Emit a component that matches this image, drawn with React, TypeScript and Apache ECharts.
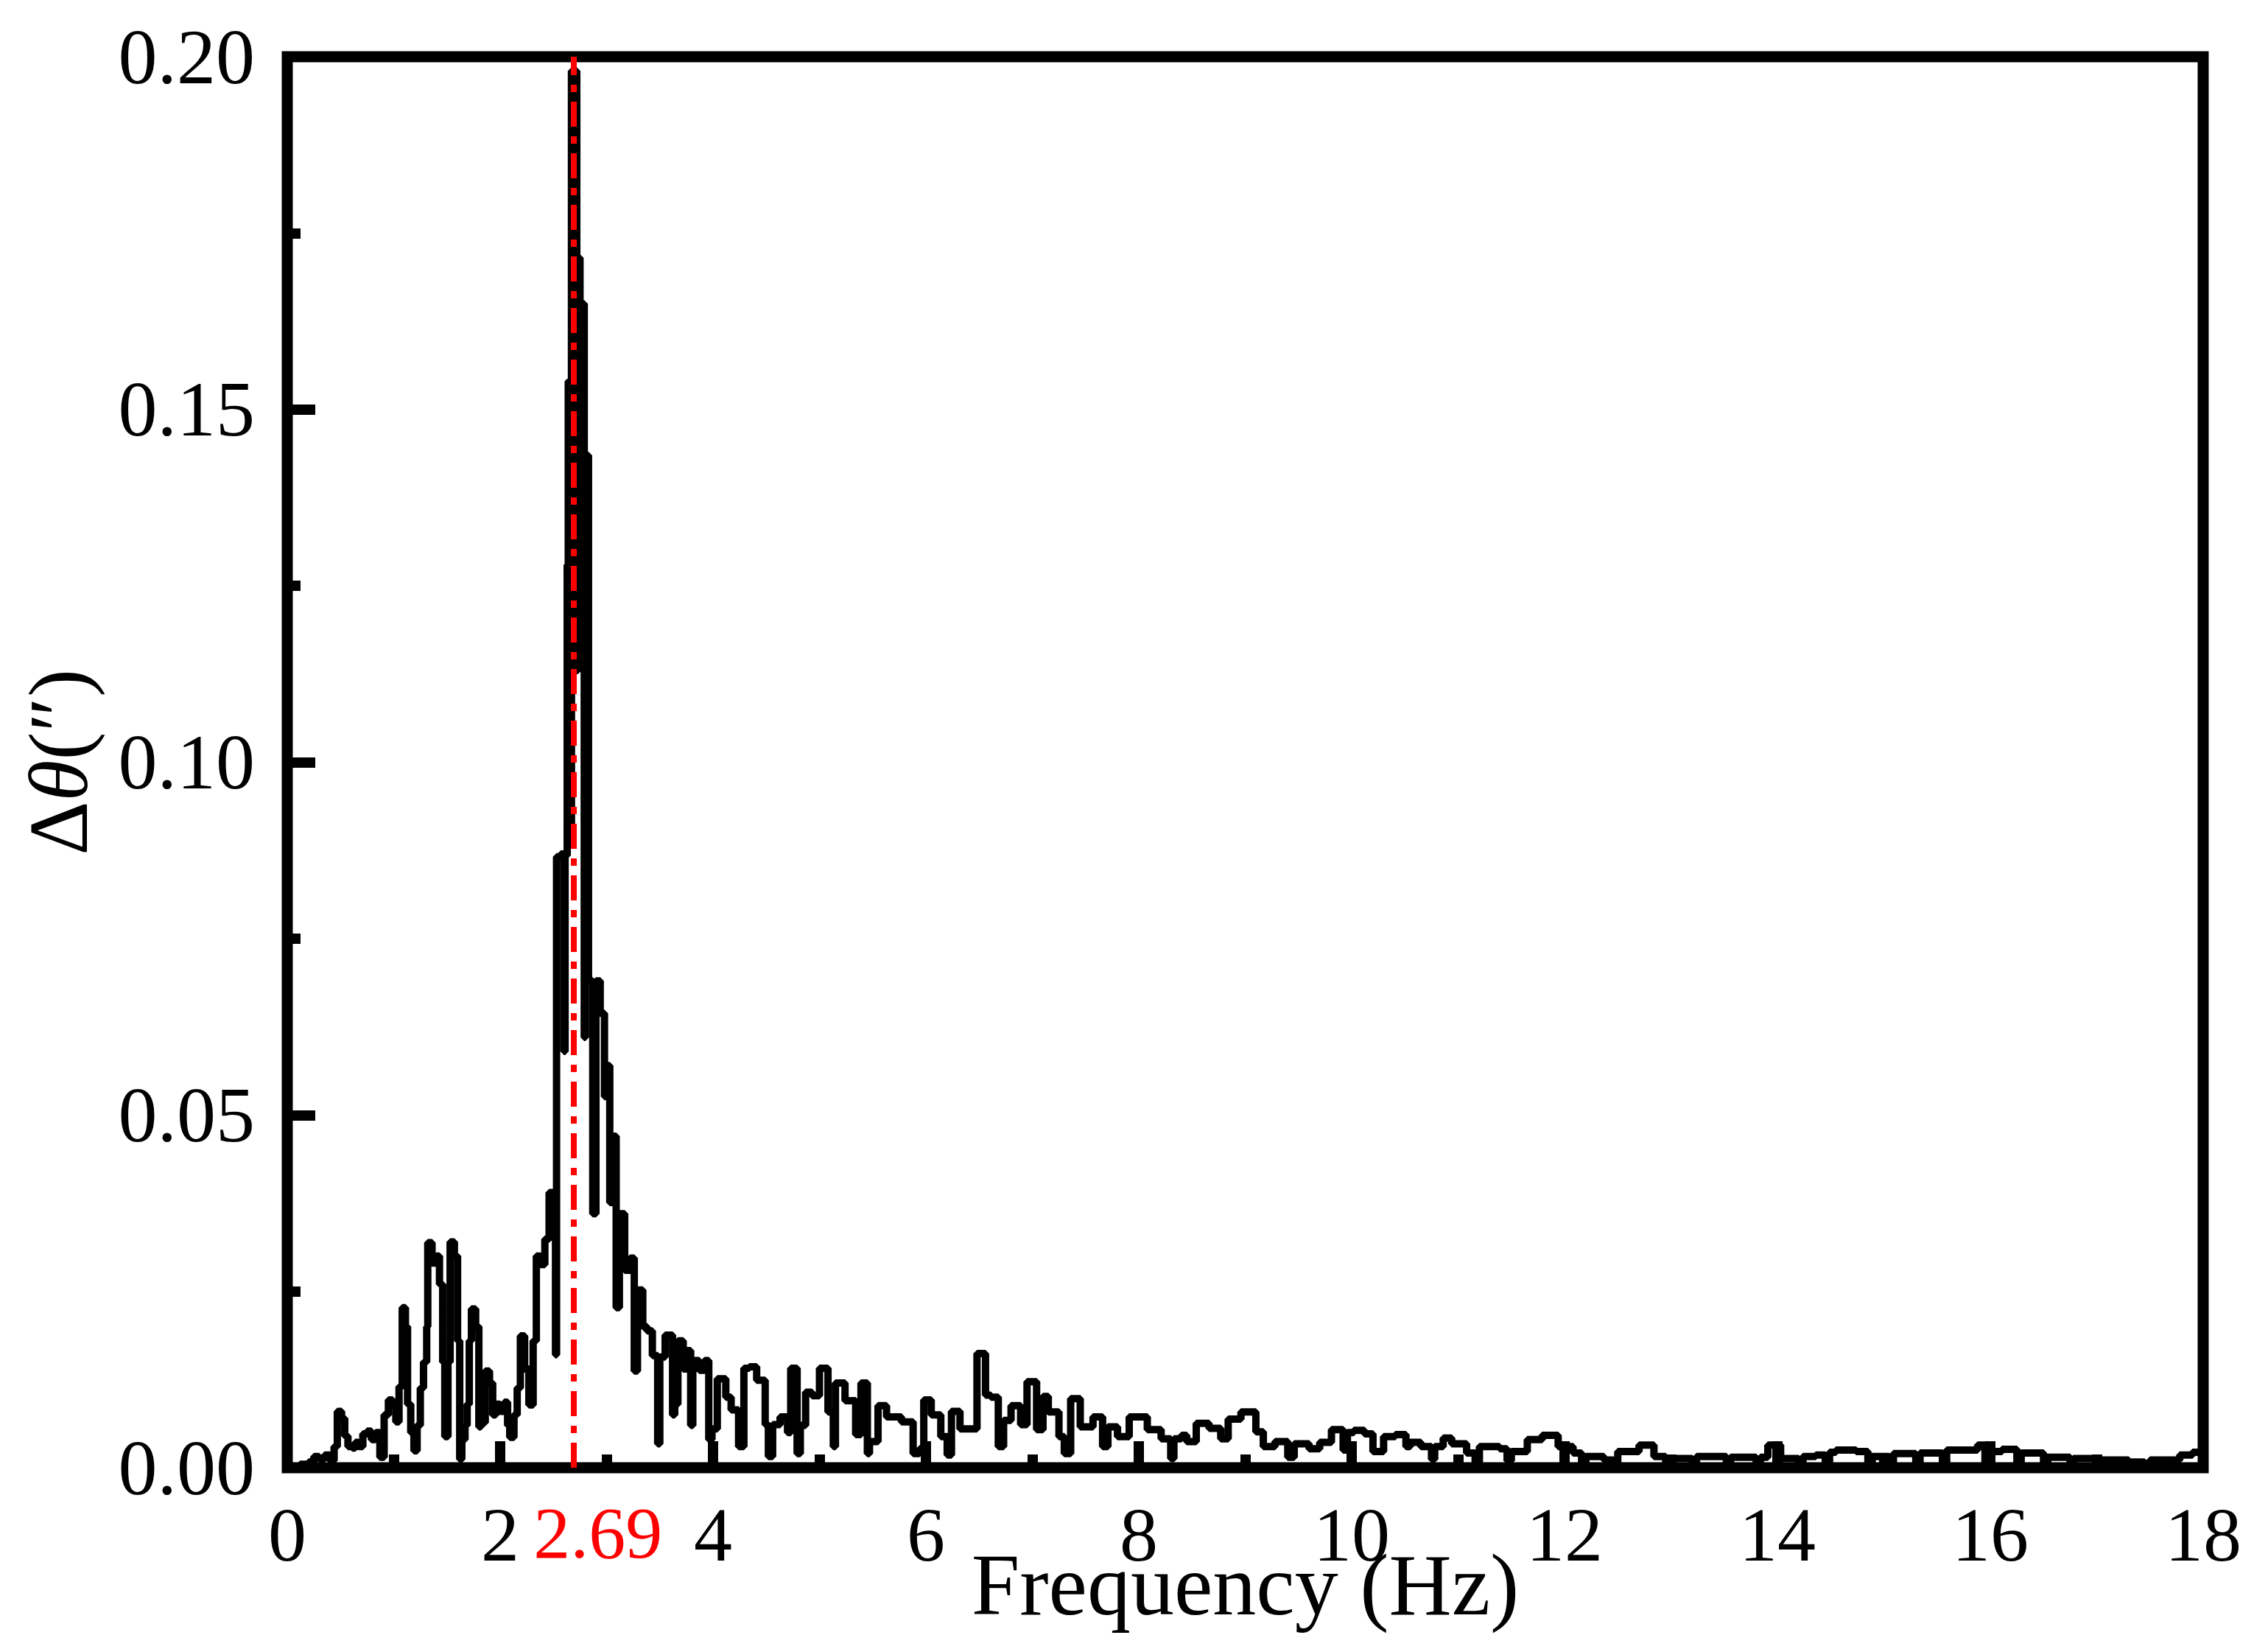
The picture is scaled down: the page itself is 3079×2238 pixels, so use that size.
import React, { useEffect, useRef } from "react";
import * as echarts from "echarts";

// Frequency (Hz) at which each level of the step spectrum starts, and its amplitude Δθ (″)
const freqLow = [
  0.0, 0.12, 0.2, 0.25, 0.3, 0.35, 0.4, 0.44, 0.47, 0.51, 0.54, 0.57, 0.61, 0.64, 0.67, 0.71, 0.75, 0.79, 0.83, 0.87,
  0.91, 0.95, 0.99, 1.02, 1.05, 1.08, 1.11, 1.13, 1.16, 1.19, 1.22, 1.25, 1.28, 1.31, 1.32, 1.36, 1.4, 1.43, 1.46, 1.48,
  1.51, 1.53, 1.57, 1.6, 1.62, 1.64, 1.67, 1.69, 1.71, 1.73, 1.77, 1.8, 1.82, 1.86, 1.9, 1.93, 1.96, 2.0, 2.04, 2.07,
  2.09, 2.13, 2.16, 2.19, 2.23, 2.27, 2.31,
];
const ampLow = [
  0.0, 0.0005, 0.0008, 0.0016, 0.0012, 0.0018, 0.001, 0.003, 0.008, 0.007, 0.0045, 0.003, 0.0028, 0.0036, 0.003, 0.0048, 0.0052, 0.004, 0.005, 0.0015,
  0.0075, 0.0096, 0.0088, 0.0065, 0.0115, 0.0227, 0.02, 0.009, 0.005, 0.0024, 0.006, 0.0113, 0.015, 0.02, 0.0319, 0.029, 0.03, 0.026, 0.015, 0.0044,
  0.015, 0.032, 0.03, 0.018, 0.0012, 0.004, 0.006, 0.009, 0.018, 0.0225, 0.02, 0.0058, 0.0064, 0.0137, 0.012, 0.0075, 0.009, 0.008, 0.0093, 0.006,
  0.0043, 0.0075, 0.0113, 0.0187, 0.014, 0.0089, 0.018,
];

const freqPeak = [
  2.34, 2.38, 2.42, 2.46, 2.5, 2.52, 2.53, 2.57, 2.6, 2.61, 2.63, 2.64, 2.66, 2.67, 2.72, 2.73, 2.75, 2.79, 2.8, 2.83,
  2.87, 2.9, 2.94, 2.98, 3.01, 3.03, 3.07, 3.09, 3.12, 3.17, 3.22, 3.26, 3.29, 3.34,
];
const ampPeak = [
  0.03, 0.0288, 0.0324, 0.039, 0.033, 0.016, 0.0866, 0.087, 0.059, 0.0868, 0.128, 0.154, 0.09, 0.198, 0.113, 0.1715, 0.165, 0.061, 0.1435, 0.069,
  0.036, 0.069, 0.0644, 0.0526, 0.057, 0.0376, 0.047, 0.0227, 0.036, 0.028, 0.0297, 0.0137, 0.0252, 0.02,
];

const freqMid = [
  3.38, 3.43, 3.48, 3.5, 3.55, 3.62, 3.64, 3.67, 3.72, 3.75, 3.79, 3.81, 3.87, 3.92, 3.96, 3.99, 4.04, 4.12, 4.17,
  4.24, 4.29, 4.34, 4.41, 4.49, 4.52, 4.56, 4.63, 4.7, 4.73, 4.79, 4.82, 4.87, 4.93, 5.0, 5.08, 5.13, 5.15, 5.24, 5.34,
  5.39, 5.45, 5.47, 5.55, 5.63, 5.77, 5.88, 5.94, 5.98, 6.05, 6.14, 6.2, 6.24, 6.32, 6.48, 6.56, 6.61, 6.68, 6.73, 6.8,
  6.89, 6.95, 7.04, 7.1, 7.15, 7.25, 7.3, 7.36, 7.45, 7.57, 7.66, 7.71, 7.8, 7.91, 8.08, 8.21, 8.3, 8.33, 8.4, 8.45,
  8.54, 8.66, 8.77, 8.84, 8.96, 9.1, 9.17,
];
const ampMid = [
  0.0194, 0.0159, 0.0034, 0.0157, 0.0188, 0.0075, 0.009, 0.018, 0.014, 0.0166, 0.006, 0.0152, 0.0138, 0.0152, 0.004, 0.0055, 0.0126, 0.01, 0.0082,
  0.003, 0.0141, 0.0143, 0.0124, 0.0061, 0.0016, 0.0061, 0.0072, 0.005, 0.0141, 0.002, 0.006, 0.0107, 0.0102, 0.0141, 0.0079, 0.003, 0.012, 0.0095, 0.0047,
  0.012, 0.002, 0.0037, 0.0088, 0.0072, 0.0065, 0.002, 0.0027, 0.0096, 0.0075, 0.0044, 0.0018, 0.008, 0.0055, 0.0162, 0.0103, 0.01, 0.003, 0.0067, 0.0088,
  0.0061, 0.0122, 0.0054, 0.0101, 0.0079, 0.0044, 0.002, 0.0098, 0.0058, 0.0072, 0.003, 0.0058, 0.0044, 0.0072, 0.0054, 0.0041, 0.0013, 0.0041, 0.0046, 0.0037,
  0.0063, 0.0056, 0.0041, 0.0069, 0.0079, 0.0051, 0.003,
];

const freqTail = [
  9.28, 9.4, 9.46, 9.6, 9.7, 9.81, 9.92, 9.96, 10.02, 10.12, 10.2, 10.3, 10.41, 10.51, 10.55, 10.65, 10.75, 10.78, 10.86, 10.94,
  11.08, 11.16, 11.2, 11.39, 11.46, 11.5, 11.65, 11.79, 11.94, 12.08, 12.16, 12.2, 12.37, 12.46, 12.5, 12.7, 12.84, 12.95, 13.0, 13.2,
  13.24, 13.36, 13.52, 13.56, 13.69, 13.8, 13.84, 13.91, 14.03, 14.2, 14.24, 14.36, 14.45, 14.49, 14.55, 14.74, 14.85, 14.89, 14.93, 15.05,
  15.09, 15.17, 15.3, 15.34, 15.4, 15.55, 15.59, 15.64, 15.88, 15.95, 16.0, 16.11, 16.25, 16.29, 16.35, 16.5, 16.54, 16.59, 16.75, 16.78,
  16.83, 17.0, 17.04, 17.11, 17.3, 17.45, 17.5, 17.54, 17.78, 17.9, 18.0,
];
const ampTail = [
  0.0037, 0.0015, 0.0034, 0.0027, 0.0036, 0.0054, 0.0025, 0.005, 0.0053, 0.0048, 0.0023, 0.0044, 0.0047, 0.003, 0.0036, 0.003, 0.0012, 0.003, 0.0042, 0.0034,
  0.0021, 0.0008, 0.003, 0.0027, 0.001, 0.0023, 0.004, 0.0046, 0.003, 0.0021, 0.0006, 0.0016, 0.0011, 0.0004, 0.0023, 0.0032, 0.0016, 0.0005, 0.0013, 0.0005,
  0.0016, 0.0016, 0.0005, 0.0015, 0.0015, 0.0004, 0.0015, 0.0032, 0.0013, 0.0005, 0.0016, 0.0018, 0.0006, 0.0022, 0.0025, 0.0023, 0.0006, 0.0016, 0.0016, 0.0005,
  0.002, 0.002, 0.0006, 0.0021, 0.0021, 0.0007, 0.0025, 0.0025, 0.0032, 0.0006, 0.0023, 0.0026, 0.0007, 0.0021, 0.0021, 0.0005, 0.0015, 0.0015, 0.0005, 0.0013,
  0.0013, 0.0004, 0.0011, 0.0011, 0.0008, 0.0003, 0.0011, 0.0011, 0.0018, 0.0022, 0.0022,
];

const peakFrequency = 2.69;
const xTicks = { min: 0, max: 18, interval: 2 };
const yTicks = { min: 0, max: 0.2, interval: 0.05 };

const FONT = "Liberation Serif";

export default function App() {
  const ref = useRef<HTMLDivElement>(null);

  useEffect(() => {
    if (!ref.current) return;
    const chart = echarts.init(ref.current, undefined, { renderer: "svg" });
    const freq = [...freqLow, ...freqPeak, ...freqMid, ...freqTail];
    const amp = [...ampLow, ...ampPeak, ...ampMid, ...ampTail];
    const data = freq.map((f, i) => [f, amp[i]]);

    chart.setOption({
      animation: false,
      backgroundColor: "#fff",
      grid: {
        left: 390,
        top: 77,
        right: 88,
        bottom: 246,
        show: true,
        borderColor: "#000",
        borderWidth: 15,
        backgroundColor: "transparent",
      },
      xAxis: {
        type: "value",
        min: xTicks.min,
        max: xTicks.max,
        interval: xTicks.interval,
        name: "Frequency (Hz)",
        nameLocation: "middle",
        nameGap: 100,
        nameMoveOverlap: false,
        nameTextStyle: { fontFamily: FONT, fontSize: 118, color: "#000" },
        axisLine: { show: false },
        splitLine: { show: false },
        axisTick: { show: true, inside: true, length: 36, lineStyle: { color: "#000", width: 14 } },
        minorTick: { show: true, splitNumber: 2, length: 18, lineStyle: { color: "#000", width: 14 } },
        axisLabel: { fontFamily: FONT, fontSize: 104, color: "#000", margin: 38 },
      },
      yAxis: {
        type: "value",
        min: yTicks.min,
        max: yTicks.max,
        interval: yTicks.interval,
        name: "{n|Δ}{i|θ}{n|(″)}",
        nameLocation: "middle",
        nameGap: 254,
        nameRotate: 90,
        nameTextStyle: {
          fontFamily: FONT,
          fontSize: 114,
          color: "#000",
          rich: {
            n: { fontFamily: FONT, fontSize: 114, color: "#000" },
            i: { fontFamily: FONT, fontSize: 114, color: "#000", fontStyle: "italic" },
          },
        },
        axisLine: { show: false },
        splitLine: { show: false },
        axisTick: { show: true, inside: true, length: 38, lineStyle: { color: "#000", width: 14 } },
        minorTick: { show: true, splitNumber: 2, length: 18, lineStyle: { color: "#000", width: 14 } },
        axisLabel: {
          fontFamily: FONT,
          fontSize: 106,
          color: "#000",
          margin: 44,
          formatter: (v: number) => v.toFixed(2),
        },
      },
      series: [
        {
          type: "line",
          step: "end",
          data,
          showSymbol: false,
          symbol: "none",
          clip: true,
          lineStyle: { color: "#000", width: 10 },
          z: 2,
        },
        {
          type: "line",
          data: [],
          z: 5,
          markLine: {
            silent: true,
            symbol: "none",
            lineStyle: { color: "#ff0000", width: 8, type: [34, 13, 10, 13], opacity: 1 },
            label: {
              show: true,
              position: "start",
              formatter: String(peakFrequency),
              color: "#ff0000",
              fontFamily: FONT,
              fontSize: 100,
              distance: 38,
              offset: [33, 0],
            },
            data: [[{ coord: [peakFrequency, yTicks.min] }, { coord: [peakFrequency, yTicks.max] }]],
          },
        },
      ],
    });

    return () => chart.dispose();
  }, []);

  return (
    <div
      ref={ref}
      style={{ position: "absolute", left: 0, top: 0, width: 3079, height: 2238, background: "#fff" }}
    />
  );
}
